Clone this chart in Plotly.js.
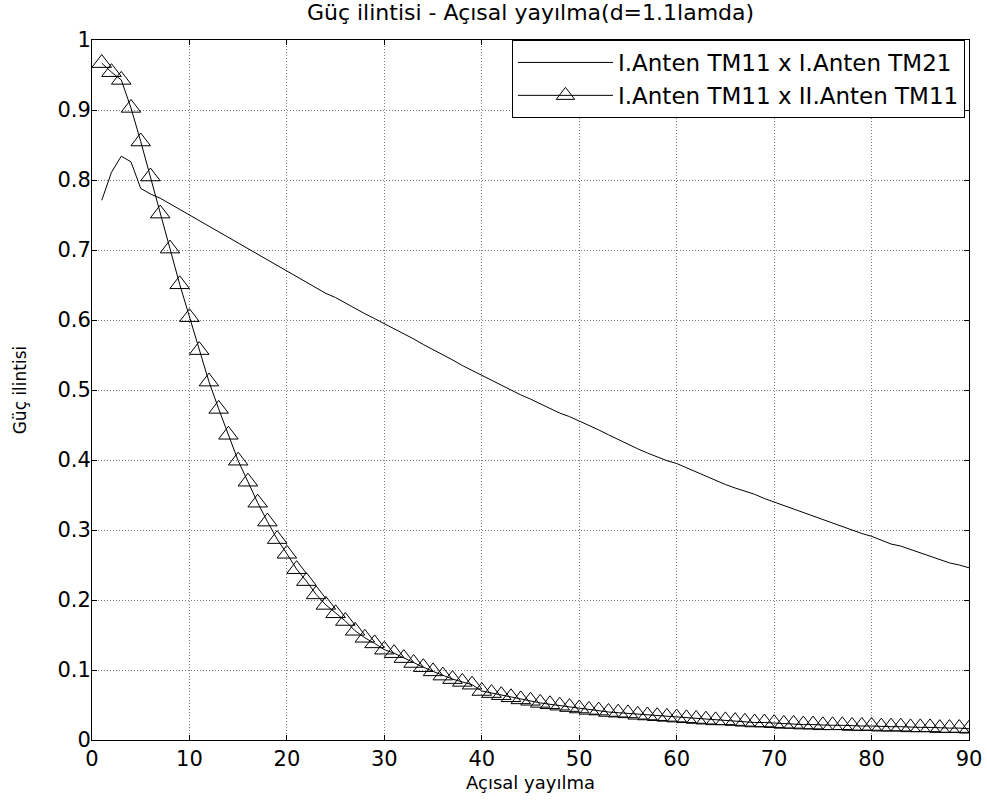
<!DOCTYPE html>
<html>
<head>
<meta charset="utf-8">
<script src="https://cdn.plot.ly/plotly-3.0.1.min.js"></script>
<style>html,body{margin:0;padding:0;background:#fff;}#chart{width:987px;height:809px;}</style>
</head>
<body>
<div id="chart"></div>
<script>
// Açısal yayılma (x), 1..90
const angles = [1,2,3,4,5,6,7,8,9,10,11,12,13,14,15,16,17,18,19,20,21,22,23,24,25,26,27,28,29,30,
31,32,33,34,35,36,37,38,39,40,41,42,43,44,45,46,47,48,49,50,51,52,53,54,55,56,57,58,59,60,
61,62,63,64,65,66,67,68,69,70,71,72,73,74,75,76,77,78,79,80,81,82,83,84,85,86,87,88,89,90];

// I.Anten TM11 x I.Anten TM21
const corrTM11_TM21 = [0.771,0.811,0.834,0.826,0.788,0.780,0.774,0.766,0.758,0.749,
0.741,0.734,0.726,0.717,0.710,0.701,0.694,0.686,0.678,0.670,
0.662,0.654,0.646,0.638,0.632,0.624,0.617,0.609,0.602,0.595,
0.588,0.580,0.573,0.565,0.558,0.550,0.543,0.535,0.528,0.520,
0.513,0.506,0.500,0.493,0.487,0.480,0.474,0.467,0.462,0.456,
0.449,0.443,0.436,0.429,0.422,0.416,0.410,0.404,0.399,0.395,
0.389,0.382,0.376,0.370,0.365,0.360,0.356,0.351,0.345,0.340,
0.335,0.330,0.325,0.320,0.314,0.309,0.304,0.300,0.295,0.291,
0.285,0.280,0.277,0.272,0.267,0.262,0.257,0.253,0.250,0.246];

// I.Anten TM11 x II.Anten TM11
const corrTM11_IITM11 = [0.967,0.954,0.943,0.903,0.855,0.805,0.752,0.702,0.651,0.604,
0.557,0.512,0.473,0.436,0.399,0.369,0.339,0.312,0.287,0.266,
0.244,0.227,0.208,0.193,0.181,0.170,0.156,0.146,0.138,0.129,
0.124,0.117,0.110,0.104,0.098,0.092,0.087,0.083,0.079,0.070,
0.067,0.064,0.061,0.058,0.056,0.053,0.051,0.049,0.047,0.045,
0.043,0.042,0.040,0.039,0.038,0.036,0.035,0.034,0.033,0.032,
0.031,0.030,0.029,0.028,0.028,0.027,0.026,0.025,0.025,0.024,
0.023,0.023,0.022,0.022,0.021,0.021,0.021,0.020,0.020,0.020,
0.019,0.019,0.019,0.018,0.018,0.018,0.017,0.017,0.017,0.016];

const seriesNames = ['I.Anten TM11 x I.Anten TM21','I.Anten TM11 x II.Anten TM11'];
const xTicks = [0,10,20,30,40,50,60,70,80,90];
const yTicks = [0,0.1,0.2,0.3,0.4,0.5,0.6,0.7,0.8,0.9,1];
const yTickText = ['0','0.1','0.2','0.3','0.4','0.5','0.6','0.7','0.8','0.9','1'];

const FONT = 'DejaVu Sans, Arial, sans-serif';

const traces = [
  {x: angles, y: corrTM11_TM21, name: seriesNames[0], type: 'scatter', mode: 'lines',
   line: {color: '#000', width: 1}},
  {x: angles, y: corrTM11_IITM11, name: seriesNames[1], type: 'scatter', mode: 'lines+markers',
   line: {color: '#000', width: 1},
   marker: {symbol: 'triangle-up-open', size: 17, color: '#000', line: {width: 1, color: '#000'}}}
];

const axisCommon = {
  showline: true, linecolor: '#000', linewidth: 1, mirror: 'ticks',
  ticks: 'inside', ticklen: 5, tickwidth: 1, tickcolor: '#000',
  showgrid: true, gridcolor: '#7a7a7a', griddash: '1px,2px', gridwidth: 1,
  zeroline: false, tickfont: {family: FONT, size: 21, color: '#000'}
};

const layout = {
  width: 987, height: 809,
  paper_bgcolor: '#fff', plot_bgcolor: '#fff',
  margin: {l: 92, r: 18, t: 40, b: 69},
  title: {text: 'Güç ilintisi - Açısal yayılma(d=1.1lamda)', font: {family: FONT, size: 22, color: '#000'},
          x: 0.5, xref: 'paper', y: 0.985, yref: 'container', yanchor: 'middle'},
  xaxis: Object.assign({}, axisCommon, {range: [0, 90], tickvals: xTicks, ticktext: xTicks.map(String),
          title: {text: 'Açısal yayılma', font: {family: FONT, size: 18, color: '#000'}, standoff: 6}}),
  yaxis: Object.assign({}, axisCommon, {range: [0, 1], tickvals: yTicks, ticktext: yTickText,
          ticklabelstandoff: -4,
          title: {text: 'Güç ilintisi', font: {family: FONT, size: 17, color: '#000'}, standoff: 26}}),
  showlegend: true,
  legend: {x: 0.9954, y: 1, xanchor: 'right', yanchor: 'top', bgcolor: '#fff',
           bordercolor: '#000', borderwidth: 1, itemwidth: 95,
           font: {family: FONT, size: 23, color: '#000'}}
};

Plotly.newPlot('chart', traces, layout, {displayModeBar: false, staticPlot: true});
</script>
</body>
</html>
